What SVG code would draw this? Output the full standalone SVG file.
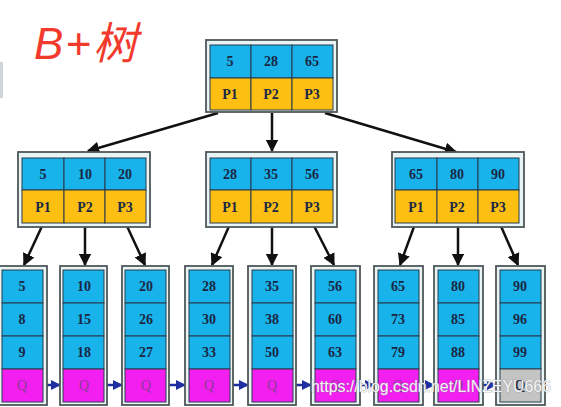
<svg xmlns="http://www.w3.org/2000/svg" width="561" height="407" viewBox="0 0 561 407">
<defs>
<style>
.outer{fill:#e9f5f5;stroke:#4f5759;stroke-width:1.8}
.k{fill:#17b3ea;stroke:#2a3a4a;stroke-width:1}
.p{fill:#fdbf12;stroke:#2a3a4a;stroke-width:1}
.q{fill:#f21ff0;stroke:#2a3a4a;stroke-width:1}
.qg{fill:#c4c4c4;stroke:#2a3a4a;stroke-width:1}
.t{font-family:"Liberation Serif",serif;font-weight:bold;font-size:14px;fill:#1b2744;text-anchor:middle}
.tq{font-family:"Liberation Serif",serif;font-size:14px;fill:#8a3b95;text-anchor:middle}
.e{stroke:#111;stroke-width:2.5;fill:none}
.b{stroke:#1f2fa0;stroke-width:2.5;fill:none}
</style>
<marker id="ah" viewBox="0 0 10 10" refX="9" refY="5" markerWidth="5" markerHeight="5" orient="auto"><path d="M0,0 L10,5 L0,10 z" fill="#111"/></marker>
<marker id="bh" viewBox="0 0 10 10" refX="9" refY="5" markerWidth="4" markerHeight="4" orient="auto"><path d="M0,0 L10,5 L0,10 z" fill="#1f2fa0"/></marker>
</defs>
<rect width="561" height="407" fill="#fff"/>
<rect x="0" y="62" width="3" height="36" fill="#cfd6da"/>
<text x="34" y="59" font-family="'Liberation Sans','Noto Sans CJK SC',sans-serif" font-style="italic" font-size="44" letter-spacing="2" fill="#f23a2c">B+树</text>

<g id="connectors">
<line class="e" x1="218" y1="113" x2="88" y2="151" marker-end="url(#ah)"/>
<line class="e" x1="272" y1="113" x2="272" y2="151" marker-end="url(#ah)"/>
<line class="e" x1="325" y1="113" x2="456" y2="152" marker-end="url(#ah)"/>
<line class="e" x1="43" y1="224" x2="24" y2="265" marker-end="url(#ah)"/>
<line class="e" x1="85" y1="224" x2="85" y2="265" marker-end="url(#ah)"/>
<line class="e" x1="126" y1="224" x2="145" y2="265" marker-end="url(#ah)"/>
<line class="e" x1="230" y1="224" x2="212" y2="265" marker-end="url(#ah)"/>
<line class="e" x1="272" y1="224" x2="272" y2="265" marker-end="url(#ah)"/>
<line class="e" x1="313" y1="224" x2="334" y2="265" marker-end="url(#ah)"/>
<line class="e" x1="415" y1="224" x2="400" y2="265" marker-end="url(#ah)"/>
<line class="e" x1="458" y1="224" x2="458" y2="265" marker-end="url(#ah)"/>
<line class="e" x1="500" y1="224" x2="518" y2="265" marker-end="url(#ah)"/>
<line class="b" x1="47" y1="385" x2="60" y2="385" marker-end="url(#bh)"/>
<line class="b" x1="107" y1="385" x2="122" y2="385" marker-end="url(#bh)"/>
<line class="b" x1="169" y1="385" x2="185" y2="385" marker-end="url(#bh)"/>
<line class="b" x1="233" y1="385" x2="248" y2="385" marker-end="url(#bh)"/>
<line class="b" x1="296" y1="385" x2="311" y2="385" marker-end="url(#bh)"/>
<line class="b" x1="360" y1="385" x2="374" y2="385" marker-end="url(#bh)"/>
<line class="b" x1="422" y1="385" x2="434" y2="385" marker-end="url(#bh)"/>
<line class="b" x1="482" y1="385" x2="496" y2="385" marker-end="url(#bh)"/>
</g>

<g id="root">
<rect class="outer" x="206" y="40" width="131" height="72"/>
<rect class="k" x="210" y="45" width="41" height="33"/><rect class="k" x="251" y="45" width="41" height="33"/><rect class="k" x="292" y="45" width="41" height="33"/>
<rect class="p" x="210" y="78" width="41" height="32"/><rect class="p" x="251" y="78" width="41" height="32"/><rect class="p" x="292" y="78" width="41" height="32"/>
<text class="t" x="230" y="66">5</text><text class="t" x="271" y="66">28</text><text class="t" x="312" y="66">65</text>
<text class="t" x="230" y="99">P1</text><text class="t" x="271" y="99">P2</text><text class="t" x="312" y="99">P3</text>
</g>

<g id="mid-left">
<rect class="outer" x="18" y="152" width="132" height="75"/>
<rect class="k" x="22" y="158" width="42" height="32"/><rect class="k" x="64" y="158" width="41" height="32"/><rect class="k" x="105" y="158" width="41" height="32"/>
<rect class="p" x="22" y="190" width="42" height="33"/><rect class="p" x="64" y="190" width="41" height="33"/><rect class="p" x="105" y="190" width="41" height="33"/>
<text class="t" x="43" y="179">5</text><text class="t" x="85" y="179">10</text><text class="t" x="125" y="179">20</text>
<text class="t" x="43" y="212">P1</text><text class="t" x="85" y="212">P2</text><text class="t" x="125" y="212">P3</text>
</g>

<g id="mid-center">
<rect class="outer" x="206" y="152" width="131" height="75"/>
<rect class="k" x="210" y="158" width="41" height="32"/><rect class="k" x="251" y="158" width="41" height="32"/><rect class="k" x="292" y="158" width="41" height="32"/>
<rect class="p" x="210" y="190" width="41" height="33"/><rect class="p" x="251" y="190" width="41" height="33"/><rect class="p" x="292" y="190" width="41" height="33"/>
<text class="t" x="230" y="179">28</text><text class="t" x="271" y="179">35</text><text class="t" x="312" y="179">56</text>
<text class="t" x="230" y="212">P1</text><text class="t" x="271" y="212">P2</text><text class="t" x="312" y="212">P3</text>
</g>

<g id="mid-right">
<rect class="outer" x="392" y="152" width="132" height="75"/>
<rect class="k" x="395" y="158" width="42" height="32"/><rect class="k" x="437" y="158" width="41" height="32"/><rect class="k" x="478" y="158" width="41" height="32"/>
<rect class="p" x="395" y="190" width="42" height="33"/><rect class="p" x="437" y="190" width="41" height="33"/><rect class="p" x="478" y="190" width="41" height="33"/>
<text class="t" x="416" y="179">65</text><text class="t" x="457" y="179">80</text><text class="t" x="498" y="179">90</text>
<text class="t" x="416" y="212">P1</text><text class="t" x="457" y="212">P2</text><text class="t" x="498" y="212">P3</text>
</g>

<g id="leaf1">
<rect class="outer" x="-1" y="266" width="48" height="139"/>
<rect class="k" x="2" y="270" width="41" height="33"/><rect class="k" x="2" y="303" width="41" height="33"/><rect class="k" x="2" y="336" width="41" height="33"/><rect class="q" x="2" y="369" width="41" height="33"/>
<text class="t" x="22" y="291">5</text><text class="t" x="22" y="324">8</text><text class="t" x="22" y="357">9</text><text class="tq" x="22" y="390">Q</text>
</g>
<g id="leaf2">
<rect class="outer" x="60" y="266" width="47" height="139"/>
<rect class="k" x="63" y="270" width="41" height="33"/><rect class="k" x="63" y="303" width="41" height="33"/><rect class="k" x="63" y="336" width="41" height="33"/><rect class="q" x="63" y="369" width="41" height="33"/>
<text class="t" x="84" y="291">10</text><text class="t" x="84" y="324">15</text><text class="t" x="84" y="357">18</text><text class="tq" x="84" y="390">Q</text>
</g>
<g id="leaf3">
<rect class="outer" x="122" y="266" width="47" height="139"/>
<rect class="k" x="125" y="270" width="41" height="33"/><rect class="k" x="125" y="303" width="41" height="33"/><rect class="k" x="125" y="336" width="41" height="33"/><rect class="q" x="125" y="369" width="41" height="33"/>
<text class="t" x="146" y="291">20</text><text class="t" x="146" y="324">26</text><text class="t" x="146" y="357">27</text><text class="tq" x="146" y="390">Q</text>
</g>
<g id="leaf4">
<rect class="outer" x="185" y="266" width="48" height="139"/>
<rect class="k" x="189" y="270" width="41" height="33"/><rect class="k" x="189" y="303" width="41" height="33"/><rect class="k" x="189" y="336" width="41" height="33"/><rect class="q" x="189" y="369" width="41" height="33"/>
<text class="t" x="209" y="291">28</text><text class="t" x="209" y="324">30</text><text class="t" x="209" y="357">33</text><text class="tq" x="209" y="390">Q</text>
</g>
<g id="leaf5">
<rect class="outer" x="248" y="266" width="48" height="139"/>
<rect class="k" x="252" y="270" width="41" height="33"/><rect class="k" x="252" y="303" width="41" height="33"/><rect class="k" x="252" y="336" width="41" height="33"/><rect class="q" x="252" y="369" width="41" height="33"/>
<text class="t" x="272" y="291">35</text><text class="t" x="272" y="324">38</text><text class="t" x="272" y="357">50</text><text class="tq" x="272" y="390">Q</text>
</g>
<g id="leaf6">
<rect class="outer" x="311" y="266" width="49" height="139"/>
<rect class="k" x="315" y="270" width="41" height="33"/><rect class="k" x="315" y="303" width="41" height="33"/><rect class="k" x="315" y="336" width="41" height="33"/><rect class="q" x="315" y="369" width="41" height="33"/>
<text class="t" x="335" y="291">56</text><text class="t" x="335" y="324">60</text><text class="t" x="335" y="357">63</text><text class="tq" x="335" y="390">Q</text>
</g>
<g id="leaf7">
<rect class="outer" x="374" y="266" width="49" height="139"/>
<rect class="k" x="378" y="270" width="41" height="33"/><rect class="k" x="378" y="303" width="41" height="33"/><rect class="k" x="378" y="336" width="41" height="33"/><rect class="q" x="378" y="369" width="41" height="33"/>
<text class="t" x="398" y="291">65</text><text class="t" x="398" y="324">73</text><text class="t" x="398" y="357">79</text><text class="tq" x="398" y="390">Q</text>
</g>
<g id="leaf8">
<rect class="outer" x="434" y="266" width="49" height="139"/>
<rect class="k" x="438" y="270" width="41" height="33"/><rect class="k" x="438" y="303" width="41" height="33"/><rect class="k" x="438" y="336" width="41" height="33"/><rect class="q" x="438" y="369" width="41" height="33"/>
<text class="t" x="458" y="291">80</text><text class="t" x="458" y="324">85</text><text class="t" x="458" y="357">88</text><text class="tq" x="458" y="390">Q</text>
</g>
<g id="leaf9">
<rect class="outer" x="496" y="266" width="49" height="139"/>
<rect class="k" x="500" y="270" width="41" height="33"/><rect class="k" x="500" y="303" width="41" height="33"/><rect class="k" x="500" y="336" width="41" height="33"/><rect class="qg" x="500" y="369" width="41" height="33"/>
<text class="t" x="520" y="291">90</text><text class="t" x="520" y="324">96</text><text class="t" x="520" y="357">99</text><text class="t" x="520" y="390">Q</text>
</g>

<text x="311" y="392" font-family="'Liberation Sans',sans-serif" font-size="17" fill="#fff" stroke="#8a8f96" stroke-width="0.6" paint-order="stroke" fill-opacity="0.92" textLength="240" lengthAdjust="spacingAndGlyphs">https://blog.csdn.net/LINZEYU666</text>
</svg>
